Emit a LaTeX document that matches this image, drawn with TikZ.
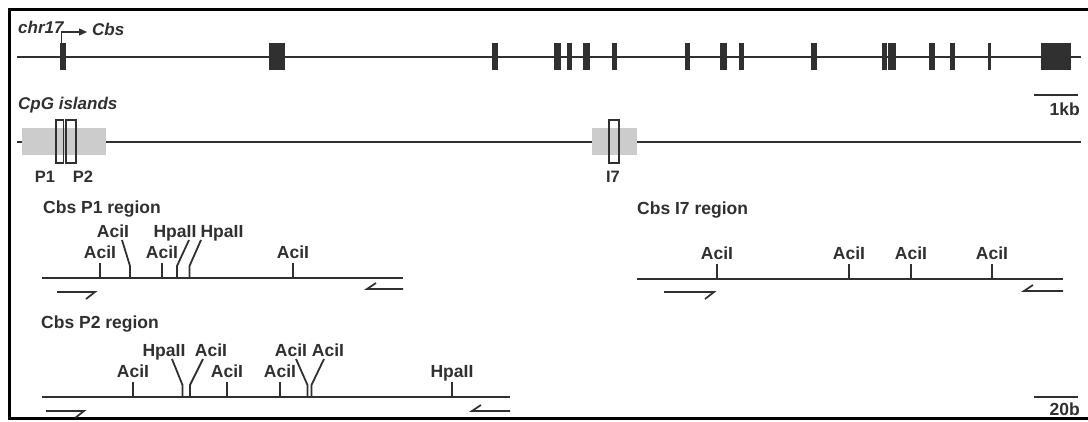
\documentclass[tikz,border=0pt]{standalone}
\usepackage{fontspec}
\setmainfont{Liberation Sans}
\usetikzlibrary{arrows.meta}
\definecolor{ink}{HTML}{303030}
\definecolor{island}{HTML}{CCCCCC}
\tikzset{
  lbl/.style={font=\fontsize{17.5}{20}\selectfont\bfseries, text=ink, inner sep=0pt, anchor=base},
  plbl/.style={lbl, font=\fontsize{16.5}{19}\selectfont\bfseries},
  ilbl/.style={lbl, font=\fontsize{17}{19}\selectfont\bfseries\itshape},
  axis/.style={draw=ink, line width=2.3pt},
  site/.style={draw=ink, line width=1.8pt},
  primer/.style={draw=ink, line width=1.7pt},
  exon/.style={fill=ink},
  cpgbox/.style={draw=ink, line width=1.5pt},
  frame/.style={draw=black, line width=3.5pt, line join=miter},
}
\begin{document}
\begin{tikzpicture}[x=1pt, y=-1pt]
\useasboundingbox (0,0) rectangle (1088,421);
\fill[white] (0,0) rectangle (1088,421);

% outer frame
\draw[frame] (1090,9.5) -- (9.5,9.5) -- (9.5,418.5) -- (1090,418.5);

% ---------------- gene model ----------------
\node[ilbl, anchor=base west] (chr) at (18,33) {chr17};
\draw[axis] (17,57) -- (1081,57);
\foreach \a/\b in {60/66,269/285,492/498,554/561,567/572,583/590,612/617,
                   685/690,720/727,739/744,811/817,882/887,888/896,929/935,
                   950/955,988/991,1041/1071}
  \fill[exon] (\a,43) rectangle (\b,70);
\coordinate (tss) at (61.5,43);
\node[ilbl, anchor=base west] (cbs) at (92,35) {Cbs};
\draw[draw=ink, line width=1.5pt, -{Triangle[length=8pt,width=7pt]}]
  (tss) |- (87,32);
% 1 kb scale bar
\draw[axis] (1034,95) -- (1078,95);
\node[lbl, anchor=base east] (kb) at (1080,115) {1kb};

% ---------------- CpG islands ----------------
\node[ilbl, anchor=base west] (cpg) at (18,109) {CpG islands};
\draw[axis] (17,142) -- (1081,142);
\fill[island] (22,128) rectangle (106,155);
\fill[island] (592,128) rectangle (637,155);
\draw[cpgbox] (56,120) rectangle (63.3,163);
\draw[cpgbox] (66,120) rectangle (76,163);
\draw[cpgbox] (609,120) rectangle (619,163);
\node[plbl] (lp1) at (45,182) {P1};
\node[plbl] (lp2) at (83,182) {P2};
\node[plbl] (li7) at (613,182) {I7};

% ---------------- Cbs P1 region ----------------
\node[lbl, anchor=base west] (t1) at (43,213) {Cbs P1 region};
\draw[axis] (42,278) -- (403,278);
\foreach \x/\n in {100/a,162/b,293/c}{
  \draw[site] (\x,278) -- (\x,263);
  \node[lbl] (p1\n) at (\x,258) {AciI};
}
\draw[site] (130,278) -- (130,266) -- (122,240);
\node[lbl] (p1d) at (113,237) {AciI};
\draw[site] (177,278) -- (177,266) -- (189,240);
\node[lbl] (p1e) at (175,237) {HpaII};
\draw[site] (189.5,278) -- (189.5,266) -- (201,240);
\node[lbl] (p1f) at (222,237) {HpaII};
\draw[primer] (57,292) -- (95,292) -- ++(-9,7);
\draw[primer] (403,289) -- (367,289) -- ++(9,-6);

% ---------------- Cbs I7 region ----------------
\node[lbl, anchor=base west] (t3) at (637,214) {Cbs I7 region};
\draw[axis] (637,279) -- (1063,279);
\foreach \x/\n in {717/a,849/b,911/c,992/d}{
  \draw[site] (\x,279) -- (\x,264);
  \node[lbl] (i7\n) at (\x,259) {AciI};
}
\draw[primer] (664,292) -- (714,292) -- ++(-9,7);
\draw[primer] (1063,291) -- (1024,291) -- ++(9,-6);

% ---------------- Cbs P2 region ----------------
\node[lbl, anchor=base west] (t2) at (41,328) {Cbs P2 region};
\draw[axis] (42,397) -- (510,397);
\foreach \x/\n/\e in {133/a/AciI,227/b/AciI,280/c/AciI,452/d/HpaII}{
  \draw[site] (\x,397) -- (\x,382);
  \node[lbl] (p2\n) at (\x,377) {\e};
}
\draw[site] (182.5,397) -- (182.5,385) -- (172,359);
\node[lbl] (p2e) at (164,356) {HpaII};
\draw[site] (190,397) -- (190,385) -- (203,359);
\node[lbl] (p2f) at (211,356) {AciI};
\draw[site] (307.5,397) -- (307.5,385) -- (296,359);
\node[lbl] (p2g) at (291,356) {AciI};
\draw[site] (311.5,397) -- (311.5,385) -- (324,359);
\node[lbl] (p2h) at (328,356) {AciI};
\draw[primer] (46,411) -- (84,411) -- ++(-9,7);
\draw[primer] (510,411) -- (472,411) -- ++(9,-6);
% 20 b scale bar
\draw[axis] (1034,397) -- (1078,397);
\node[lbl, anchor=base east] (bp) at (1080,415) {20b};
\end{tikzpicture}
\end{document}
